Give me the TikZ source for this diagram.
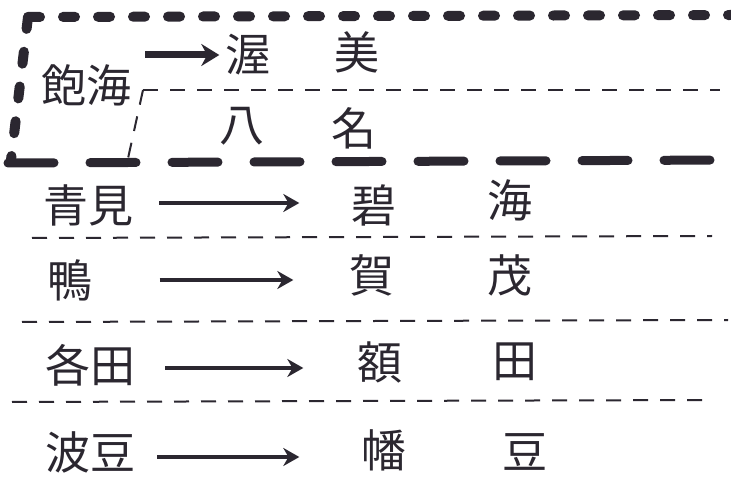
\documentclass[tikz,border=0pt]{standalone}
\usepackage{fontspec}
\newfontfamily\jp{Noto Sans CJK JP}
\usetikzlibrary{arrows.meta}
\definecolor{ink}{HTML}{2B2730}
\tikzset{
  kanji/.style={inner sep=0pt, font=\jp\fontsize{45}{45}\selectfont, text=ink},
  arr/.style={draw=ink, line width=3.5pt, -{Stealth[length=16pt,width=18pt]}},
  bigarr/.style={draw=ink, line width=7pt, -{Stealth[length=18pt,width=22pt]}},
  thickdots/.style={draw=ink, line width=10pt, line cap=round, dash pattern=on 12pt off 23pt},
  thickdash/.style={draw=ink, line width=9pt, line cap=round, dash pattern=on 46pt off 36pt},
  thindash/.style={draw=ink, line width=2pt, dash pattern=on 15pt off 12pt}
}
\begin{document}
\begin{tikzpicture}[x=1pt,y=-1pt]
\useasboundingbox[fill=white] (0,0) rectangle (731,486);
% frame
\draw[thickdots] (28,17) -- (731,15);
\draw[thickdots] (28,17) -- (11,160);
\draw[thickdash] (8,163) -- (731,160);
\draw[thindash] (143,90) -- (720,90);
\draw[thindash] (143,90) -- (127,163);
% row separators
\draw[thindash] (32,238) -- (712,236);
\draw[thindash] (22,322) -- (728,320);
\draw[thindash] (12,402) -- (708,400);
% texts
\node[kanji] (akumi) at (86,85) {飽海};
\node[kanji] (atsu) at (248,55) {渥};
\node[kanji] (mi) at (357,52) {美};
\node[kanji] (ya) at (242,126) {八};
\node[kanji] (na) at (354,128) {名};
\node[kanji] (aomi) at (88,205) {青見};
\node[kanji] (heki) at (374,205) {碧};
\node[kanji] (kai) at (510,200) {海};
\node[kanji] (kamo) at (70,280) {鴨};
\node[kanji] (ga) at (372,275) {賀};
\node[kanji] (mo) at (510,275) {茂};
\node[kanji] (kakuta) at (90,365) {各田};
\node[kanji] (nuka) at (380,362) {額};
\node[kanji] (ta) at (515,362) {田};
\node[kanji] (hazu) at (90,452) {波豆};
\node[kanji] (ban) at (384,450) {幡};
\node[kanji] (zu) at (525,452) {豆};
% arrows
\draw[bigarr, shorten <=14pt, shorten >=6pt] (akumi.east |- atsu.west) -- (atsu.west);
\draw[arr, shorten <=26pt, shorten >=52pt] ([yshift=2pt]aomi.east) -- ([yshift=2pt]aomi.east -| heki.west);
\draw[arr, shorten <=67pt, shorten >=56pt] (kamo.east) -- (kamo.east -| ga.west);
\draw[arr, shorten <=30pt, shorten >=54pt] ([yshift=-3pt]kakuta.east) -- ([yshift=-3pt]kakuta.east -| nuka.west);
\draw[arr, shorten <=22pt, shorten >=62pt] ([yshift=-5pt]hazu.east) -- ([yshift=-5pt]hazu.east -| ban.west);
\end{tikzpicture}
\end{document}
